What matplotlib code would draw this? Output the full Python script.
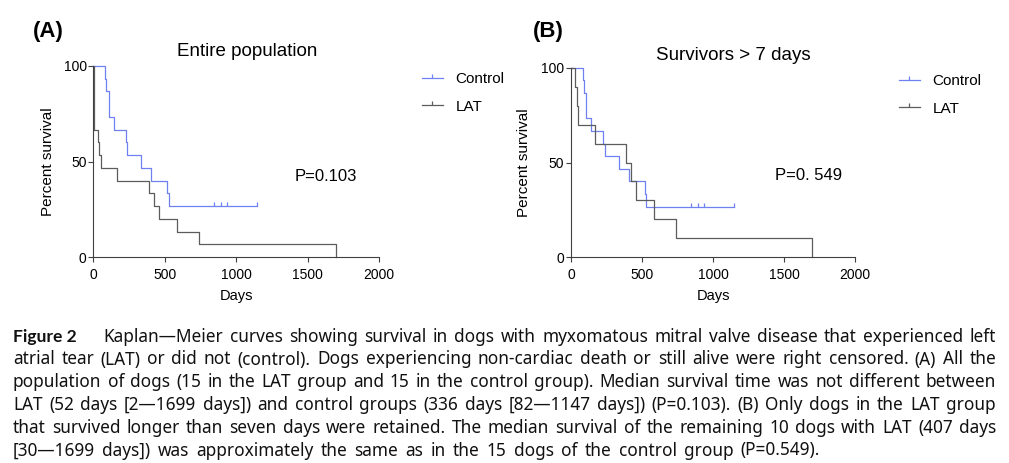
import matplotlib
matplotlib.use("Agg")
import matplotlib.pyplot as plt
from matplotlib.path import Path
from matplotlib.lines import Line2D

plt.rcParams['font.family'] = ['Liberation Sans', 'DejaVu Sans']

# Kaplan-Meier steps (days, percent survival)
ctrl_days = [0, 82, 91, 108, 143, 226, 238, 336, 405, 518, 529, 1147]
ctrl_pct = [100, 93.3, 86.7, 73.3, 66.7, 60, 53.3, 46.7, 40, 33.3, 26.7, 26.7]
ctrl_cens_days = [846, 891, 937, 1147]
ctrl_cens_pct = [26.7, 26.7, 26.7, 26.7]

lat_days_all = [0, 2, 3, 4, 6, 7, 30, 40, 52, 168, 387, 424, 459, 587, 737, 1699]
lat_pct_all = [100, 93.3, 86.7, 80, 73.3, 66.7, 60, 53.3, 46.7, 40, 33.3, 26.7,
               20, 13.3, 6.7, 0]

lat_days_7d = [0, 30, 40, 52, 168, 387, 424, 459, 587, 737, 1699]
lat_pct_7d = [100, 90, 80, 70, 60, 50, 40, 30, 20, 10, 0]

panel_letters = ['(A)', '(B)']
panel_titles = ['Entire population', 'Survivors > 7 days']
p_values = ['P=0.103', 'P=0. 549']
series_names = ['Control', 'LAT']

x_ticks = [0, 500, 1000, 1500, 2000]
y_ticks = [0, 50, 100]

caption_head = 'Figure 2'
caption_lines = [
    "Kaplan\u2014Meier curves showing survival in dogs with myxomatous mitral valve disease that experienced left",
    "atrial tear (LAT) or did not (control). Dogs experiencing non-cardiac death or still alive were right censored. (A) All the",
    "population of dogs (15 in the LAT group and 15 in the control group). Median survival time was not different between",
    "LAT (52 days [2\u20141699 days]) and control groups (336 days [82\u20141147 days]) (P=0.103). (B) Only dogs in the LAT group",
    "that survived longer than seven days were retained. The median survival of the remaining 10 dogs with LAT (407 days",
    "[30\u20141699 days]) was approximately the same as in the 15 dogs of the control group (P=0.549).",
]

BLUE = '#6f80f0'
GREY = '#5c5c5c'
AXC = '#404040'

W, H = 1009, 463
fig = plt.figure(figsize=(W / 100, H / 100), dpi=100)

# censor tick: small vertical mark going up from the curve
tick_mark = Path([(0, 0), (0, 1)], [Path.MOVETO, Path.LINETO])


def px(x, y):
    return x / W, 1 - y / H


def draw_panel(rect, lat_days, lat_pct, letter, title, pval, title_xy, letter_xy,
               p_xy, leg_xy, ylab_x):
    ax = fig.add_axes(rect)
    ax.step(ctrl_days, ctrl_pct, where='post', color=BLUE, lw=0.9, clip_on=False)
    ax.plot(ctrl_cens_days, ctrl_cens_pct, ls='none', marker=tick_mark,
            ms=6, mec=BLUE, mew=0.9, clip_on=False)
    ax.step(lat_days, lat_pct, where='post', color=GREY, lw=0.9, clip_on=False)

    ax.set_xlim(0, 2000)
    ax.set_ylim(0, 100)
    ax.set_xticks(x_ticks)
    ax.set_yticks(y_ticks)
    for s in ['top', 'right']:
        ax.spines[s].set_visible(False)
    for s in ['left', 'bottom']:
        ax.spines[s].set_color(AXC)
        ax.spines[s].set_linewidth(0.8)
    ax.tick_params(axis='x', length=3.5, width=0.8, color=AXC, pad=4, labelsize=10)
    ax.tick_params(axis='y', length=3.8, width=0.8, color=AXC, pad=1, labelsize=10)
    ax.set_xlabel('Days', fontsize=10.5, labelpad=5)
    ax.set_ylabel('Percent survival', fontsize=11)
    ax.yaxis.set_label_coords(ylab_x / W, rect[1] + rect[3] / 2,
                              transform=fig.transFigure)

    fig.text(*px(*letter_xy), letter, fontsize=16, fontweight='bold',
             ha='center', va='center')
    fig.text(*px(*title_xy), title, fontsize=13.5, ha='center', va='center')
    fig.text(*px(*p_xy), pval, fontsize=12, ha='center', va='center')

    handles = [Line2D([], [], color=BLUE, lw=0.9, marker=tick_mark, ms=6, mew=0.9),
               Line2D([], [], color=GREY, lw=0.9, marker=tick_mark, ms=6, mew=0.9)]
    ax.legend(handles, series_names, loc='upper left',
              bbox_to_anchor=px(*leg_xy), bbox_transform=fig.transFigure,
              frameon=False, fontsize=11, handlelength=1.35, handletextpad=0.85,
              labelspacing=0.9, numpoints=1, borderpad=0, borderaxespad=0)
    return ax


ax_a = draw_panel([93.3 / W, 1 - 257.3 / H, (379 - 93.3) / W, (257.3 - 65.7) / H],
                  lat_days_all, lat_pct_all, panel_letters[0], panel_titles[0],
                  p_values[0], (247, 52), (48, 32), (326, 177), (422, 72), 55)
ax_b = draw_panel([571 / W, 1 - 257.3 / H, (855 - 571) / W, (257.3 - 67.7) / H],
                  lat_days_7d, lat_pct_7d, panel_letters[1], panel_titles[1],
                  p_values[1], (733, 56), (548, 32), (809, 175), (899, 74), 531)

# justified caption (line breaks as in the original)
renderer = fig.canvas.get_renderer()
cap_font = ['Noto Sans', 'DejaVu Sans']
head_font = ['Lato', 'DejaVu Sans']
cap_color = '#111111'
left, right = 13, 996
last_right = 820
baselines = [342, 364.5, 387.3, 410, 432.7, 455.5]
first_gap = 27


def word_widths(words, fs, family, weight='normal'):
    out = []
    for w in words:
        t = fig.text(0, 0, w, fontsize=fs, family=family, fontweight=weight)
        out.append(t.get_window_extent(renderer).width)
        t.remove()
    return out


head_fs = 12.6
hw = word_widths([caption_head], head_fs, head_font, 'bold')[0]
fs = 12.4
for _ in range(25):
    ok = True
    for i, line in enumerate(caption_lines[:-1]):
        ws = word_widths(line.split(), fs, cap_font)
        avail = right - left - (hw + first_gap if i == 0 else 0)
        if sum(ws) + 0.2 * fs * 100 / 72 * (len(ws) - 1) > avail:
            ok = False
            break
    if ok:
        break
    fs -= 0.1

fig.text(*px(left, baselines[0]), caption_head, fontsize=head_fs,
         family=head_font, fontweight='bold', va='baseline', color=cap_color)
for i, line in enumerate(caption_lines):
    words = line.split()
    ws = word_widths(words, fs, cap_font)
    x = left + (hw + first_gap if i == 0 else 0)
    end = last_right if i == len(caption_lines) - 1 else right
    gap = (end - x - sum(ws)) / (len(words) - 1)
    for w, wd in zip(words, ws):
        fig.text(*px(x, baselines[i]), w, fontsize=fs, family=cap_font,
                 va='baseline', color=cap_color)
        x += wd + gap

fig.savefig('out.png', dpi=100)
